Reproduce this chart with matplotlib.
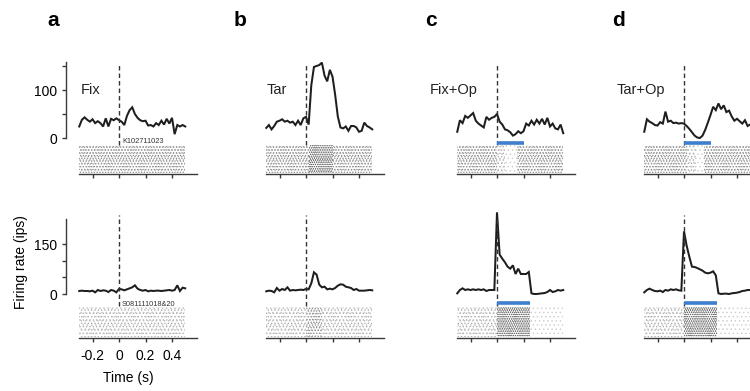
import matplotlib
matplotlib.use('Agg')
import matplotlib.pyplot as plt

plt.rcParams['font.family'] = ['Liberation Sans', 'DejaVu Sans']
plt.rcParams['axes.unicode_minus'] = False
plt.rcParams['hatch.linewidth'] = 0.55

# ---------------- data ----------------
TIME_S = [-0.30, -0.28, -0.26, -0.24, -0.22, -0.20, -0.18, -0.16, -0.14, -0.12,
          -0.10, -0.08, -0.06, -0.04, -0.02, 0.00, 0.02, 0.04, 0.06, 0.08,
          0.10, 0.12, 0.14, 0.16, 0.18, 0.20, 0.22, 0.24, 0.26, 0.28,
          0.30, 0.32, 0.34, 0.36, 0.38, 0.40, 0.42, 0.44, 0.46, 0.48, 0.50]

CONDITIONS = ['Fix', 'Tar', 'Fix+Op', 'Tar+Op']
PANEL_LETTERS = ['a', 'b', 'c', 'd']
CELL_IDS = ['K102711023', 'S081111018&20']

# firing rates (ips), top neuron
FIX_TOP = [24, 38, 43, 38, 34, 39, 31, 35, 31, 24, 41, 24, 40, 37, 41, 37, 34, 27, 46, 58,
           64, 50, 42, 37, 35, 36, 26, 27, 24, 31, 27, 36, 28, 40, 30, 42, 8, 27, 24, 27, 24]
TAR_TOP = [21, 27, 18, 25, 34, 36, 39, 34, 36, 32, 34, 27, 36, 27, 41, 44, 28, 110, 148, 150,
           152, 157, 130, 118, 142, 128, 90, 45, 22, 20, 24, 15, 25, 25, 22, 13, 15, 32, 25, 22, 18]
FIXOP_TOP = [13, 37, 31, 46, 42, 47, 52, 36, 30, 26, 22, 44, 38, 42, 44, 50, 34, 28, 18, 16,
             12, 5, 8, 14, 10, 14, 30, 26, 36, 28, 38, 30, 40, 28, 42, 24, 30, 20, 18, 28, 10]
TAROP_TOP = [13, 39, 34, 31, 27, 26, 33, 30, 55, 34, 36, 31, 32, 30, 31, 30, 25, 19, 12, 5,
             1, 0, 5, 17, 32, 48, 65, 58, 72, 60, 68, 54, 57, 45, 36, 40, 35, 30, 37, 25, 28]

# firing rates (ips), bottom neuron
FIX_BOT = [9, 10, 9, 9, 8, 10, 5, 12, 9, 11, 10, 6, 12, 10, 5, 15, 14, 11, 14, 17,
           20, 26, 16, 12, 10, 12, 8, 10, 9, 10, 10, 9, 10, 11, 12, 10, 12, 26, 9, 19, 17]
TAR_BOT = [8, 10, 9, 5, 18, 10, 15, 12, 20, 10, 12, 11, 12, 13, 12, 15, 14, 32, 65, 58,
           28, 20, 22, 14, 16, 14, 18, 25, 29, 28, 22, 20, 18, 12, 15, 10, 10, 10, 11, 12, 11]
FIXOP_BOT = [2, 12, 17, 12, 14, 12, 14, 12, 14, 12, 14, 9, 12, 12, 12, 245, 118, 106, 95, 82,
             76, 86, 60, 76, 60, 60, 60, 66, 2, 0, 0, 1, 2, 3, 6, 12, 6, 8, 12, 10, 12]
TAROP_BOT = [5, 12, 16, 12, 9, 8, 10, 6, 12, 10, 14, 12, 14, 11, 10, 188, 145, 112, 82, 81,
             78, 74, 70, 64, 62, 64, 68, 56, 2, 0, 1, 1, 0, 2, 3, 4, 6, 9, 10, 12, 12]

# optogenetic light periods (s)
OP_TOP = (0.0, 0.20)
OP_BOT = (0.0, 0.25)

# raster density segments: (start s, end s, density level 0-4)
RASTER_TOP = [
    [(-0.30, 0.50, 3)],
    [(-0.30, 0.02, 3), (0.02, 0.20, 4), (0.20, 0.50, 3)],
    [(-0.30, 0.00, 3), (0.00, 0.06, 2), (0.06, 0.15, 1), (0.15, 0.50, 3)],
    [(-0.30, 0.02, 3), (0.02, 0.09, 2), (0.09, 0.15, 1), (0.15, 0.50, 3)],
]
RASTER_BOT = [
    [(-0.30, 0.50, 2)],
    [(-0.30, 0.00, 2), (0.00, 0.12, 3), (0.12, 0.50, 2)],
    [(-0.30, 0.00, 2), (0.00, 0.25, 4), (0.25, 0.50, 1)],
    [(-0.30, 0.00, 2), (0.00, 0.25, 4), (0.25, 0.50, 1)],
]

XTICKS = [-0.2, 0, 0.2, 0.4]
XTICKLABELS = ['-0.2', '0', '0.2', '0.4']
YTICKS = [0, 50, 100, 150]
YTICKLABELS_TOP = ['0', '', '100', '']
YTICKLABELS_BOT = ['0', '', '', '150']

# ---------------- style / layout ----------------
W, H = 750, 391
fig = plt.figure(figsize=(W / 100, H / 100), dpi=100)

def rect(xl, yt, xr, yb):
    return [xl / W, 1 - yb / H, (xr - xl) / W, (yb - yt) / H]

X0 = [119, 306, 497, 684]       # pixel x of t = 0 per column
PPS = 132.5                     # pixels per second
PSTH_XLIM = (-0.4, 0.59)
RASTER_XLIM = (-0.3, 0.59)
LINE_C = '#1e1e1e'
SPINE_C = '#3a3a3a'
BLUE = '#3d7fcc'
# hatch layers per raster density level
HATCH = {
    0: [],
    1: [('....', '#cfcfcf')],
    2: [('.....', '#a9a9a9'), ('....', '#c4c4c4')],
    3: [('......', '#858585'), ('.....', '#9c9c9c')],
    4: [('........', '#5c5c5c'), ('.......', '#6e6e6e')],
}

row_specs = [
    dict(rates=[FIX_TOP, TAR_TOP, FIXOP_TOP, TAROP_TOP], raster=RASTER_TOP, op=OP_TOP,
         zero_y=138, ppu=0.48, ytop=160, spine_top=158, ytl=YTICKLABELS_TOP,
         r_top=145, r_bot=174, dash=(63, 145), op_px=5, id_base=142.7),
    dict(rates=[FIX_BOT, TAR_BOT, FIXOP_BOT, TAROP_BOT], raster=RASTER_BOT, op=OP_BOT,
         zero_y=294, ppu=1 / 3, ytop=250, spine_top=225, ytl=YTICKLABELS_BOT,
         r_top=307, r_bot=338, dash=(215, 306), op_px=9, id_base=306),
]

for r, spec in enumerate(row_specs):
    for c in range(4):
        x0 = X0[c]
        # PSTH axes
        yt = spec['zero_y'] - spec['ytop'] * spec['ppu']
        ax = fig.add_axes(rect(x0 + PSTH_XLIM[0] * PPS, yt,
                               x0 + PSTH_XLIM[1] * PPS, spec['zero_y']))
        ax.set_xlim(*PSTH_XLIM)
        ax.set_ylim(0, spec['ytop'])
        ax.patch.set_alpha(0)
        for s in ['top', 'right', 'bottom']:
            ax.spines[s].set_visible(False)
        ax.set_xticks([])
        if c == 0:
            ax.spines['left'].set_color(SPINE_C)
            ax.spines['left'].set_linewidth(1.0)
            ax.spines['left'].set_bounds(0, spec['spine_top'])
            ax.set_yticks(YTICKS)
            ax.set_yticklabels(spec['ytl'])
            ax.tick_params(axis='y', direction='out', length=2.6, width=1.0,
                           color=SPINE_C, labelsize=10, pad=4)
        else:
            ax.spines['left'].set_visible(False)
            ax.set_yticks([])

        ax.plot(TIME_S, spec['rates'][c], color=LINE_C, lw=1.45, clip_on=False,
                solid_joinstyle='miter')
        h_px = spec['ytop'] * spec['ppu']
        ymin = (spec['zero_y'] - spec['dash'][1]) / h_px
        ymax = (spec['zero_y'] - spec['dash'][0]) / h_px
        ax.axvline(0, ymin=ymin, ymax=ymax, color='#333333', lw=1.0,
                   linestyle=(0, (3.2, 2.2)), clip_on=False)
        if c >= 2:
            yb = -spec['op_px'] / spec['ppu']
            ax.plot(list(spec['op']), [yb, yb], color=BLUE, lw=2.6,
                    solid_capstyle='butt', clip_on=False)

        # raster axes
        rx = fig.add_axes(rect(x0 + RASTER_XLIM[0] * PPS, spec['r_top'],
                               x0 + RASTER_XLIM[1] * PPS, spec['r_bot']))
        rx.set_xlim(*RASTER_XLIM)
        rx.set_ylim(0, 1)
        rx.patch.set_alpha(0)
        for s in ['top', 'right', 'left']:
            rx.spines[s].set_visible(False)
        rx.spines['bottom'].set_color(SPINE_C)
        rx.spines['bottom'].set_linewidth(1.0)
        rx.set_yticks([])
        rx.set_xticks(XTICKS)
        if r == 1 and c == 0:
            rx.set_xticklabels(XTICKLABELS)
        else:
            rx.set_xticklabels([])
        rx.tick_params(axis='x', direction='out', length=3, width=1.0,
                       color=SPINE_C, labelsize=10, pad=5)
        for (s0, s1, lev) in spec['raster'][c]:
            for hp, hc in HATCH[lev]:
                rx.bar(s0, 0.95, width=s1 - s0, bottom=0.04, align='edge',
                       facecolor='none', edgecolor=hc, linewidth=0, hatch=hp)

        if r == 0:
            fig.text((x0 - 72) / W, 1 - 26.5 / H, PANEL_LETTERS[c], fontsize=15,
                     fontweight='bold', ha='left', va='baseline')
            fig.text((x0 - 19) / W, 1 - 94 / H, CONDITIONS[c], fontsize=10.5,
                     ha='right', va='baseline', color='#222222')
        if c == 0:
            fig.text((x0 + 3) / W, 1 - spec['id_base'] / H, CELL_IDS[r], fontsize=5.3,
                     ha='left', va='baseline', color='#333333')

fig.text(128 / W, 1 - 378 / H, 'Time (s)', fontsize=10, ha='center', va='center')
fig.text(21 / W, 1 - 262 / H, 'Firing rate (ips)', fontsize=10, ha='center',
         va='center', rotation=90)

fig.savefig('out.png', dpi=100)
